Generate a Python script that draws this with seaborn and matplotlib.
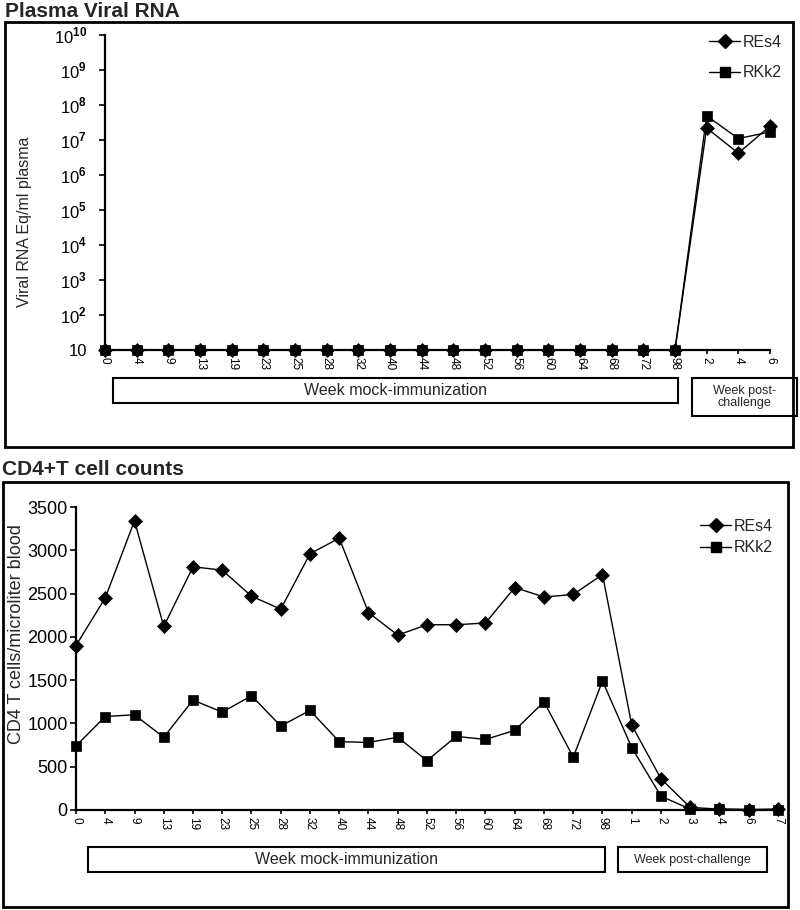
"""
Plasma viral RNA and CD4+ T cell counts for two mock-immunized macaques.
Writes out.png
"""

import matplotlib.pyplot as plt
import pandas as pd
import seaborn as sns
from matplotlib.lines import Line2D
from matplotlib.patches import Rectangle

animals = ['REs4', 'RKk2']
markers = {'REs4': 'D', 'RKk2': 's'}

viral_weeks = ['0', '4', '9', '13', '19', '23', '25', '28', '32', '40', '44',
               '48', '52', '56', '60', '64', '68', '72', '98', '2', '4', '6']
viral_res4 = [10, 10, 10, 10, 10, 10, 10, 10, 10, 10, 10,
              10, 10, 10, 10, 10, 10, 10, 10, 2.2e7, 4.2e6, 2.5e7]
viral_rkk2 = [10, 10, 10, 10, 10, 10, 10, 10, 10, 10, 10,
              10, 10, 10, 10, 10, 10, 10, 10, 4.9e7, 1.1e7, 1.7e7]

cd4_weeks = ['0', '4', '9', '13', '19', '23', '25', '28', '32', '40', '44',
             '48', '52', '56', '60', '64', '68', '72', '98',
             '1', '2', '3', '4', '6', '7']
cd4_res4 = [1900, 2450, 3340, 2120, 2810, 2770, 2470, 2320, 2960, 3140, 2280,
            2020, 2140, 2140, 2160, 2570, 2460, 2490, 2720,
            980, 360, 30, 10, 5, 10]
cd4_rkk2 = [740, 1080, 1100, 840, 1270, 1130, 1320, 970, 1150, 790, 780,
            840, 570, 850, 815, 920, 1250, 610, 1490,
            720, 160, 10, 10, 5, 5]

W, H = 800, 910


def fx(px):
    return px / W


def fy(py):
    return 1 - py / H


def draw_series(ax, weeks, res4, rkk2):
    df = pd.DataFrame({
        'pos': list(range(len(weeks))) * 2,
        'value': res4 + rkk2,
        'animal': ['REs4'] * len(res4) + ['RKk2'] * len(rkk2),
    })
    sns.lineplot(data=df, x='pos', y='value', style='animal',
                 style_order=animals, markers=markers, dashes=False,
                 color='black', linewidth=1, markersize=7.5,
                 markeredgecolor='black', markeredgewidth=0.5,
                 legend=False, ax=ax)
    for line in ax.lines:
        line.set_clip_on(False)
    ax.set_xlim(0, len(weeks) - 1)
    ax.set_xticks(range(len(weeks)))
    ax.set_xticklabels(weeks, rotation=270, fontsize=8.5)
    ax.set_xlabel('')
    ax.set_ylabel('')
    ax.tick_params(axis='x', length=3, pad=2, width=1.2)
    ax.tick_params(axis='y', length=4, width=1.2)
    sns.despine(ax=ax)
    for s in ['left', 'bottom']:
        ax.spines[s].set_linewidth(1.6)
        ax.spines[s].set_color('black')


def legend_handles():
    return [Line2D([], [], color='black', lw=1, marker=markers[a],
                   markersize=7, markeredgecolor='black') for a in animals]


def box(fig, x0, y0, x1, y1, text, size=11.5):
    fig.add_artist(Rectangle((fx(x0), fy(y1)), (x1 - x0) / W, (y1 - y0) / H,
                             transform=fig.transFigure, fill=False,
                             lw=1.5, ec='black'))
    fig.text(fx((x0 + x1) / 2), fy((y0 + y1) / 2), text, ha='center',
             va='center', fontsize=size, linespacing=1.1)


def main():
    sns.set_theme(style='ticks')
    plt.rcParams['font.family'] = ['Liberation Sans', 'DejaVu Sans']
    plt.rcParams['mathtext.fontset'] = 'custom'
    plt.rcParams['mathtext.rm'] = 'Liberation Sans'
    plt.rcParams['mathtext.bf'] = 'Liberation Sans:bold'
    plt.rcParams['xtick.color'] = 'black'
    plt.rcParams['ytick.color'] = 'black'

    fig = plt.figure(figsize=(W / 100, H / 100), dpi=100)

    # frames around the two panels
    for x0, y0, x1, y1 in [(5, 22, 793, 447), (3, 482, 788, 907)]:
        fig.add_artist(Rectangle((fx(x0), fy(y1)), (x1 - x0) / W,
                                 (y1 - y0) / H, transform=fig.transFigure,
                                 fill=False, lw=2, ec='black'))

    # top panel: plasma viral RNA
    ax1 = fig.add_axes([fx(105), fy(350), (770 - 105) / W, (350 - 35) / H])
    ax1.set_yscale('log')
    draw_series(ax1, viral_weeks, viral_res4, viral_rkk2)
    ax1.set_ylim(10, 1e10)
    ax1.set_yticks([10 ** k for k in range(1, 11)])
    ax1.set_yticklabels(['10'] + [r'$10^{\mathbf{%d}}$' % k
                                  for k in range(2, 11)])
    ax1.minorticks_off()
    ax1.tick_params(axis='y', labelsize=12, pad=9)
    ax1.legend(legend_handles(), animals, loc='upper right',
               bbox_to_anchor=(fx(790), fy(27)), bbox_transform=fig.transFigure,
               frameon=False, fontsize=11.5, handlelength=2,
               handletextpad=0.15, labelspacing=0.95, borderpad=0)
    fig.text(fx(5), fy(17), 'Plasma Viral RNA', fontsize=15,
             fontweight='bold', va='baseline')
    fig.text(fx(25), fy(222), 'Viral RNA Eq/ml plasma', rotation=90,
             ha='center', va='center', fontsize=11.5)
    box(fig, 113, 378, 678, 403, 'Week mock-immunization')
    box(fig, 692, 378, 797, 416, 'Week post-\nchallenge', size=9)

    # bottom panel: CD4+ T cell counts
    ax2 = fig.add_axes([fx(76), fy(810), (778 - 76) / W, (810 - 507) / H])
    draw_series(ax2, cd4_weeks, cd4_res4, cd4_rkk2)
    ax2.set_ylim(0, 3500)
    ax2.set_yticks(range(0, 3501, 500))
    ax2.tick_params(axis='y', labelsize=13, pad=2)
    ax2.legend(legend_handles(), animals, loc='upper right',
               bbox_to_anchor=(fx(781), fy(511)), bbox_transform=fig.transFigure,
               frameon=False, fontsize=11.5, handlelength=2,
               handletextpad=0.15, labelspacing=0.4, borderpad=0)
    fig.text(fx(2), fy(475), 'CD4+T cell counts', fontsize=15,
             fontweight='bold', va='baseline')
    fig.text(fx(17), fy(634), 'CD4 T cells/microliter blood', rotation=90,
             ha='center', va='center', fontsize=13)
    box(fig, 88, 847, 605, 872, 'Week mock-immunization')
    box(fig, 618, 847, 767, 872, 'Week post-challenge', size=9)

    fig.savefig('out.png', dpi=100)


if __name__ == '__main__':
    main()
